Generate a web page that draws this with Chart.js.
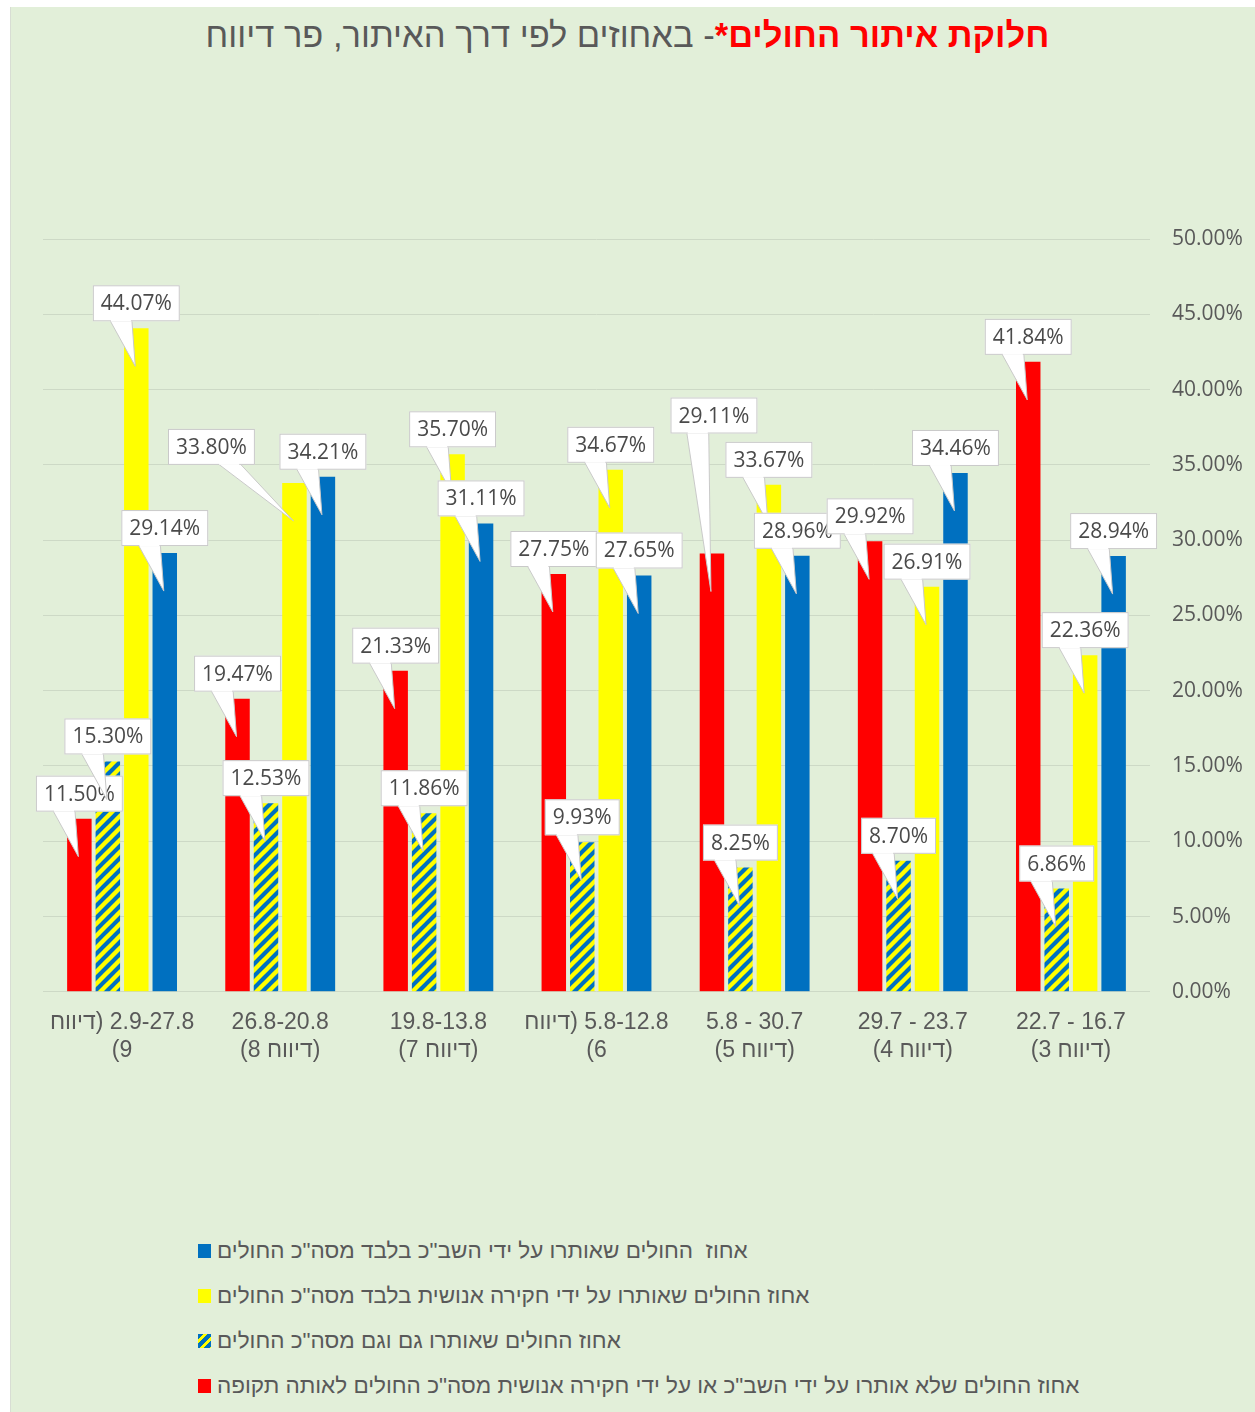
<!DOCTYPE html>
<html>
<head>
<meta charset="utf-8">
<script src="https://cdn.jsdelivr.net/npm/chart.js@4"></script>
<style>
  body { margin: 0; background: #fff; }
  .sheet { position: absolute; left: 10px; top: 7px; width: 1245px; height: 1405px; background: #e2efd9; border-left: 1px solid #d8ddd4; }
  .title { position: absolute; left: 0; top: 16px; width: 1255px; text-align: center; direction: rtl;
           font-family: "Liberation Sans", Arial, sans-serif; font-size: 34.5px; color: #595959; }
  .title .red { color: #ff0000; font-weight: bold; }
  #wrap { position: absolute; left: 0; top: 0; width: 1255px; height: 1100px; }
  #legend { position: absolute; left: 198px; top: 1238px; font-family: "Liberation Sans", Arial, sans-serif; font-size: 22.5px; color: #595959; }
  #legend .item { height: 45px; display: flex; align-items: flex-start; }
  #legend .sw { width: 13px; height: 14px; margin-top: 6px; margin-right: 6px; flex: none; }
  #legend .txt { direction: rtl; unicode-bidi: embed; white-space: pre; }
</style>
</head>
<body>
<div class="sheet"></div>
<div class="title"><span class="red">חלוקת איתור החולים*</span>- באחוזים לפי דרך האיתור, פר דיווח</div>
<div id="wrap"><canvas id="chart" dir="rtl" width="1255" height="1100"></canvas></div>
<div id="legend"></div>
<script>
// periods, left to right as in the picture
const periods = [
  ['2.9-27.8 (דיווח', '9)'],
  ['26.8-20.8', '(דיווח 8)'],
  ['19.8-13.8', '(דיווח 7)'],
  ['5.8-12.8 (דיווח', '6)'],
  ['30.7 - 5.8', '(דיווח 5)'],
  ['23.7 - 29.7', '(דיווח 4)'],
  ['16.7 - 22.7', '(דיווח 3)']
];
const notFound = [11.50, 19.47, 21.33, 27.75, 29.11, 29.92, 41.84];
const bothWays = [15.30, 12.53, 11.86, 9.93, 8.25, 8.70, 6.86];
const humanOnly = [44.07, 33.80, 35.70, 34.67, 33.67, 26.91, 22.36];
const shabakOnly = [29.14, 34.21, 31.11, 27.65, 28.96, 34.46, 28.94];
const yTicks = [0, 5, 10, 15, 20, 25, 30, 35, 40, 45, 50];

const seriesNames = [
  'אחוז החולים שלא אותרו על ידי השב"כ או על ידי חקירה אנושית מסה"כ החולים לאותה תקופה',
  'אחוז החולים שאותרו גם וגם מסה"כ החולים',
  'אחוז החולים שאותרו על ידי חקירה אנושית בלבד מסה"כ החולים',
  'אחוז  החולים שאותרו על ידי השב"כ בלבד מסה"כ החולים'
];

const BLUE = '#0070c0', YELLOW = '#ffff00', RED = '#ff0000';

function hatch() {
  const c = document.createElement('canvas');
  c.width = 12; c.height = 12;
  const g = c.getContext('2d');
  g.fillStyle = BLUE;
  g.fillRect(0, 0, 12, 12);
  g.strokeStyle = YELLOW;
  g.lineWidth = 4.4;
  [[-12, 12, 12, -12], [0, 12, 12, 0], [0, 24, 24, 0]].forEach(s => {
    g.beginPath(); g.moveTo(s[0], s[1]); g.lineTo(s[2], s[3]); g.stroke();
  });
  return g.createPattern(c, 'repeat');
}

// hand placed callouts in the original (category, dataset) -> shift of the box
const calloutShift = { '1,2': [-83, -11], '4,0': [2, -113] };

const callouts = {
  id: 'callouts',
  afterDatasetsDraw(chart) {
    const ctx = chart.ctx;
    ctx.save();
    ctx.direction = 'ltr';
    ctx.font = '21px "Open Sans"';
    ctx.textAlign = 'center';
    ctx.textBaseline = 'middle';
    const n = chart.data.labels.length;
    for (let i = 0; i < n; i++) {
      chart.data.datasets.forEach((ds, d) => {
        const bar = chart.getDatasetMeta(d).data[i];
        const txt = ds.data[i].toFixed(2) + '%';
        const sh = calloutShift[i + ',' + d] || [0, 0];
        const w = ctx.measureText(txt).width + 16, h = 36;
        const cx = bar.x + sh[0];
        const bottom = bar.y - 7 + sh[1];
        const left = cx - w / 2, top = bottom - h;
        const tipX = bar.x - 1, tipY = bar.y + 38;
        let bx = cx + 0.4 * (tipX - cx) - 26;
        bx = Math.max(left + 4, Math.min(bx, left + w - 26));
        ctx.fillStyle = '#ffffff';
        ctx.strokeStyle = '#c9c9c9';
        ctx.lineWidth = 1;
        ctx.beginPath();
        ctx.moveTo(bx, bottom - 1);
        ctx.lineTo(tipX, tipY);
        ctx.lineTo(bx + 22, bottom - 1);
        ctx.closePath();
        ctx.fill();
        ctx.stroke();
        ctx.fillRect(left, top, w, h);
        ctx.strokeRect(left + 0.5, top + 0.5, w - 1, h - 1);
        ctx.fillRect(bx + 1, bottom - 3, 20, 3);
        ctx.fillStyle = '#4a4a4a';
        ctx.fillText(txt, cx, top + h / 2 + 1);
      });
    }
    ctx.restore();
  }
};

const hatchFill = hatch();
const fills = [RED, hatchFill, YELLOW, BLUE];
const values = [notFound, bothWays, humanOnly, shabakOnly];

new Chart(document.getElementById('chart'), {
  type: 'bar',
  data: {
    labels: periods,
    datasets: values.map((v, k) => ({
      label: seriesNames[k],
      data: v,
      backgroundColor: fills[k],
      barPercentage: 0.86,
      categoryPercentage: 0.72
    }))
  },
  options: {
    responsive: false,
    animation: false,
    devicePixelRatio: 1,
    layout: { padding: { left: 43, right: 12, top: 239, bottom: 27 } },
    plugins: { legend: { display: false }, tooltip: { enabled: false } },
    scales: {
      x: {
        grid: { display: false },
        border: { display: false },
        ticks: { color: '#595959', padding: 9, font: { family: '"Liberation Sans", Arial', size: 23 } }
      },
      y: {
        position: 'right',
        min: 0,
        max: 50,
        afterBuildTicks: s => { s.ticks = yTicks.map(v => ({ value: v })); },
        afterFit: s => { s.width = 93; },
        grid: { color: '#cdd9c6', drawTicks: false },
        border: { display: false },
        ticks: {
          color: '#595959',
          padding: 22,
          font: { family: '"Open Sans"', size: 21 },
          callback: v => v.toFixed(2) + '%'
        }
      }
    }
  },
  plugins: [callouts]
});

// legend, same order as the original (reverse of the bars)
const legendEl = document.getElementById('legend');
[3, 2, 1, 0].forEach(k => {
  const item = document.createElement('div');
  item.className = 'item';
  const sw = document.createElement('span');
  sw.className = 'sw';
  sw.style.background = k === 1
    ? 'repeating-linear-gradient(135deg, #0070c0 0 4px, #ffff00 4px 7px)'
    : [RED, null, YELLOW, BLUE][k];
  const t = document.createElement('span');
  t.className = 'txt';
  t.textContent = seriesNames[k];
  item.appendChild(sw);
  item.appendChild(t);
  legendEl.appendChild(item);
});
</script>
</body>
</html>
